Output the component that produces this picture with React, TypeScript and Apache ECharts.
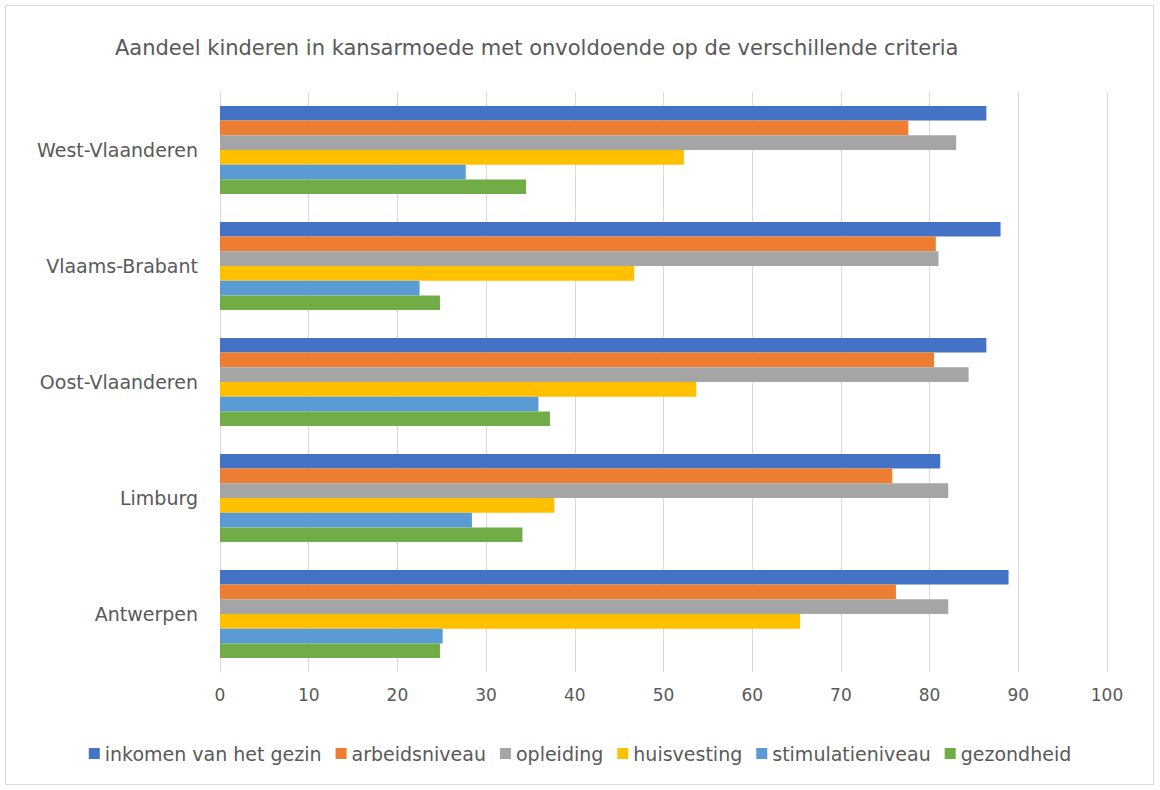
import React, { useEffect, useRef } from "react";
import * as echarts from "echarts";

const categories = ["Antwerpen", "Limburg", "Oost-Vlaanderen", "Vlaams-Brabant", "West-Vlaanderen"];
const seriesNames = ["inkomen van het gezin", "arbeidsniveau", "opleiding", "huisvesting", "stimulatieniveau", "gezondheid"];
const inkomen = [88.9, 81.2, 86.4, 88.0, 86.4];
const arbeid = [76.2, 75.8, 80.5, 80.7, 77.6];
const opleiding = [82.1, 82.1, 84.4, 81.0, 83.0];
const huisvesting = [65.4, 37.7, 53.7, 46.7, 52.3];
const stimulatie = [25.1, 28.4, 35.9, 22.5, 27.7];
const gezondheid = [24.8, 34.1, 37.2, 24.8, 34.5];
const colors = ["#4472C4", "#ED7D31", "#A5A5A5", "#FFC000", "#5B9BD5", "#70AD47"];
const xTicks = [0, 10, 20, 30, 40, 50, 60, 70, 80, 90, 100];

export default function App() {
  const ref = useRef<HTMLDivElement>(null);
  useEffect(() => {
    document.body.style.margin = "0";
    const chart = echarts.init(ref.current!, null, { renderer: "svg" });
    const values = [inkomen, arbeid, opleiding, huisvesting, stimulatie, gezondheid];
    const font = "'DejaVu Sans', sans-serif";
    chart.setOption({
      animation: false,
      backgroundColor: "#ffffff",
      title: {
        text: "Aandeel kinderen in kansarmoede met onvoldoende op de verschillende criteria",
        left: 110,
        top: 32,
        textStyle: { color: "#595959", fontSize: 21, fontWeight: "normal", fontFamily: font },
      },
      graphic: [
        {
          type: "rect",
          shape: { x: 5.5, y: 5.5, width: 1148, height: 779 },
          style: { fill: "none", stroke: "#d9d9d9", lineWidth: 1 },
          silent: true,
        },
      ],
      legend: {
        bottom: 22,
        left: "center",
        itemWidth: 11,
        itemHeight: 11,
        itemGap: 14,
        icon: "rect",
        textStyle: { color: "#595959", fontSize: 19, fontFamily: font },
        data: seriesNames,
      },
      grid: { left: 220, right: 53, top: 92, bottom: 118 },
      xAxis: {
        type: "value",
        min: 0,
        max: 100,
        interval: 10,
        axisLabel: { color: "#595959", fontSize: 17, fontFamily: font, margin: 14, formatter: (v: number) => (xTicks.includes(v) ? String(v) : "") },
        splitLine: { lineStyle: { color: "#d9d9d9" } },
        axisLine: { show: false },
        axisTick: { show: false },
      },
      yAxis: {
        type: "category",
        data: categories,
        axisLabel: { color: "#595959", fontSize: 19, fontFamily: font, margin: 22 },
        axisLine: { show: true, lineStyle: { color: "#d9d9d9" } },
        axisTick: { show: false },
      },
      series: seriesNames.map((name, i) => ({
        name,
        type: "bar",
        data: values[i],
        barGap: "0%",
        barCategoryGap: "24%",
        itemStyle: { color: colors[i] },
      })),
    });
    return () => chart.dispose();
  }, []);
  return <div ref={ref} style={{ width: 1160, height: 790 }} />;
}
